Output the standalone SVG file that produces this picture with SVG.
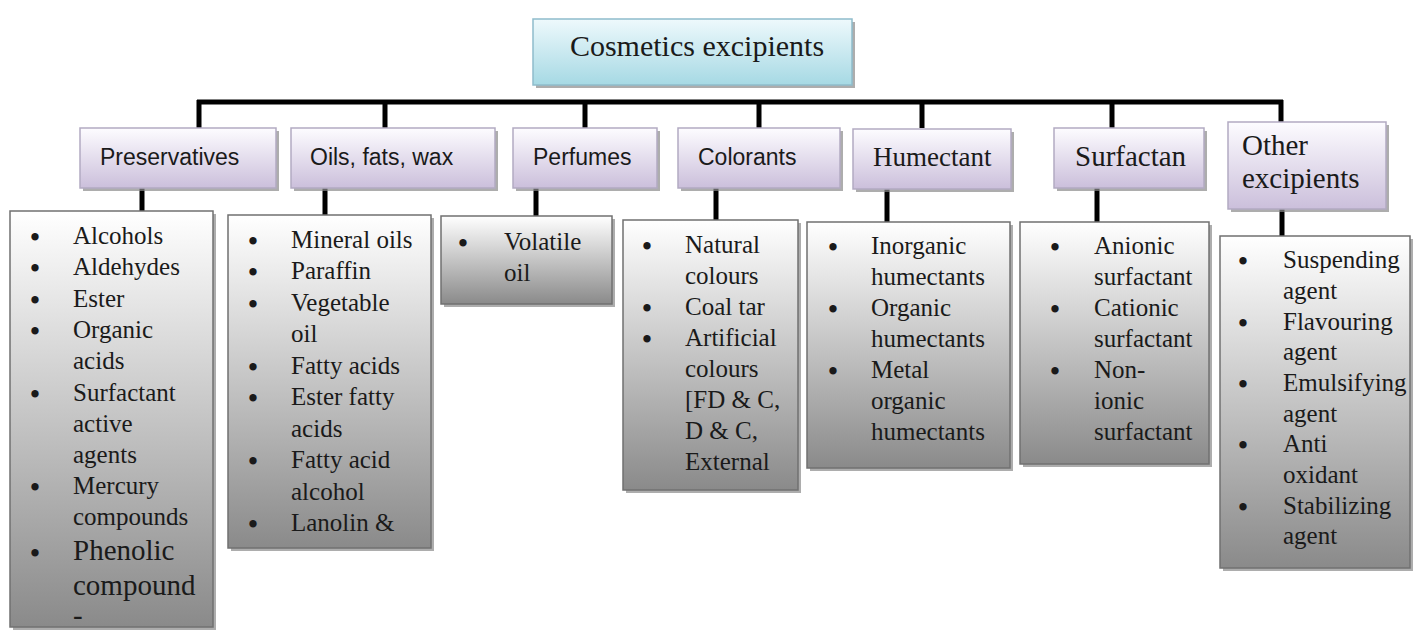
<svg xmlns="http://www.w3.org/2000/svg" width="1413" height="630" viewBox="0 0 1413 630">
<defs>
<linearGradient id="gTop" x1="0" y1="0" x2="0" y2="1"><stop offset="0" stop-color="#eef9fc"/><stop offset="1" stop-color="#a6d9e4"/></linearGradient>
<linearGradient id="gHead" x1="0" y1="0" x2="0" y2="1"><stop offset="0" stop-color="#fdfcff"/><stop offset="1" stop-color="#cbbfdb"/></linearGradient>
<linearGradient id="gList" x1="0" y1="0" x2="0" y2="1"><stop offset="0" stop-color="#ffffff"/><stop offset="1" stop-color="#8a8a8a"/></linearGradient>
</defs>
<style>
.sh{fill:#8a8a8a;opacity:0.7}
.top{fill:url(#gTop);stroke:#8fbccb;stroke-width:1.5}
.head{fill:url(#gHead);stroke:#b2aac2;stroke-width:1.5}
.list{fill:url(#gList);stroke:#707070;stroke-width:1.5}
.sans{font-family:"Liberation Sans",Arial,sans-serif;font-size:23px;fill:#1a1a1a}
.serif{font-family:"Liberation Serif","Times New Roman",serif;fill:#1a1a1a}
.h{font-size:27px}
.h2{font-size:29px}
.t{font-size:25px}
.b{font-size:27px;font-weight:bold;text-anchor:middle}
.big{font-size:29px}
.con{stroke:#000;stroke-width:5;fill:none}
</style>
<rect width="1413" height="630" fill="#ffffff"/>
<g id="connectors">
<path class="con" d="M197 102 H1283"/>
<path class="con" d="M199 100 V128 M385 100 V128 M585 100 V128 M759 100 V128 M922 100 V128 M1112 100 V128 M1281 100 V122"/>
<path class="con" d="M142 188 V211 M325 188 V215 M536 188 V216 M716 188 V220 M887 188 V222 M1097 188 V222 M1282 209 V236"/>
</g>
<g id="root">
<rect class="sh" x="536" y="22" width="319" height="66"/>
<rect class="top" x="533" y="19" width="319" height="66"/>
<text class="serif" x="697" y="56" font-size="30" text-anchor="middle">Cosmetics excipients</text>
</g>
<g id="h-preservatives">
<rect class="sh" x="83" y="131" width="196" height="60"/>
<rect class="head" x="80" y="128" width="196" height="60"/>
<text class="sans" x="100" y="165">Preservatives</text>
</g>
<g id="h-oils">
<rect class="sh" x="294" y="131" width="204" height="60"/>
<rect class="head" x="291" y="128" width="204" height="60"/>
<text class="sans" x="310" y="165">Oils, fats, wax</text>
</g>
<g id="h-perfumes">
<rect class="sh" x="516" y="131" width="144" height="60"/>
<rect class="head" x="513" y="128" width="144" height="60"/>
<text class="sans" x="533" y="165">Perfumes</text>
</g>
<g id="h-colorants">
<rect class="sh" x="681" y="131" width="162" height="60"/>
<rect class="head" x="678" y="128" width="162" height="60"/>
<text class="sans" x="698" y="165">Colorants</text>
</g>
<g id="h-humectant">
<rect class="sh" x="856" y="132" width="158" height="60"/>
<rect class="head" x="853" y="129" width="158" height="60"/>
<text class="serif h" x="873" y="166">Humectant</text>
</g>
<g id="h-surfactan">
<rect class="sh" x="1057" y="131" width="150" height="60"/>
<rect class="head" x="1054" y="128" width="150" height="60"/>
<text class="serif h2" x="1075" y="166">Surfactan</text>
</g>
<g id="h-other">
<rect class="sh" x="1231" y="125" width="158" height="87"/>
<rect class="head" x="1228" y="122" width="158" height="87"/>
<text class="serif h2" x="1242" y="155">Other</text>
<text class="serif h2" x="1242" y="188">excipients</text>
</g>
<g id="l-preservatives" class="serif">
<rect class="sh" x="13" y="214" width="203" height="416"/>
<rect class="list" x="10" y="211" width="203" height="416"/>
<text class="b" x="35" y="246">•</text><text class="t" x="73" y="244">Alcohols</text>
<text class="b" x="35" y="277">•</text><text class="t" x="73" y="275">Aldehydes</text>
<text class="b" x="35" y="309">•</text><text class="t" x="73" y="307">Ester</text>
<text class="b" x="35" y="340">•</text><text class="t" x="73" y="338">Organic</text>
<text class="t" x="73" y="369">acids</text>
<text class="b" x="35" y="403">•</text><text class="t" x="73" y="401">Surfactant</text>
<text class="t" x="73" y="432">active</text>
<text class="t" x="73" y="463">agents</text>
<text class="b" x="35" y="496">•</text><text class="t" x="73" y="494">Mercury</text>
<text class="t" x="73" y="525">compounds</text>
<text class="b" x="35" y="562" font-size="30">•</text><text class="big" x="73" y="560">Phenolic</text>
<text class="big" x="73" y="595">compound</text>
<text class="big" x="73" y="625">-</text>
</g>
<g id="l-oils" class="serif">
<rect class="sh" x="231" y="218" width="203" height="333"/>
<rect class="list" x="228" y="215" width="203" height="333"/>
<text class="b" x="253" y="250">•</text><text class="t" x="291" y="248">Mineral oils</text>
<text class="b" x="253" y="281">•</text><text class="t" x="291" y="279">Paraffin</text>
<text class="b" x="253" y="313">•</text><text class="t" x="291" y="311">Vegetable</text>
<text class="t" x="291" y="342">oil</text>
<text class="b" x="253" y="376">•</text><text class="t" x="291" y="374">Fatty acids</text>
<text class="b" x="253" y="407">•</text><text class="t" x="291" y="405">Ester fatty</text>
<text class="t" x="291" y="437">acids</text>
<text class="b" x="253" y="470">•</text><text class="t" x="291" y="468">Fatty acid</text>
<text class="t" x="291" y="500">alcohol</text>
<text class="b" x="253" y="533">•</text><text class="t" x="291" y="531">Lanolin &amp;</text>
</g>
<g id="l-perfumes" class="serif">
<rect class="sh" x="444" y="219" width="171" height="88"/>
<rect class="list" x="441" y="216" width="171" height="88"/>
<text class="b" x="463" y="252">•</text><text class="t" x="504" y="250">Volatile</text>
<text class="t" x="504" y="281">oil</text>
</g>
<g id="l-colorants" class="serif">
<rect class="sh" x="626" y="223" width="175" height="270"/>
<rect class="list" x="623" y="220" width="175" height="270"/>
<text class="b" x="647" y="255">•</text><text class="t" x="685" y="253">Natural</text>
<text class="t" x="685" y="284">colours</text>
<text class="b" x="647" y="317">•</text><text class="t" x="685" y="315">Coal tar</text>
<text class="b" x="647" y="348">•</text><text class="t" x="685" y="346">Artificial</text>
<text class="t" x="685" y="377">colours</text>
<text class="t" x="685" y="408">[FD &amp; C,</text>
<text class="t" x="685" y="439">D &amp; C,</text>
<text class="t" x="685" y="470">External</text>
</g>
<g id="l-humectant" class="serif">
<rect class="sh" x="810" y="225" width="203" height="246"/>
<rect class="list" x="807" y="222" width="203" height="246"/>
<text class="b" x="833" y="256">•</text><text class="t" x="871" y="254">Inorganic</text>
<text class="t" x="871" y="285">humectants</text>
<text class="b" x="833" y="318">•</text><text class="t" x="871" y="316">Organic</text>
<text class="t" x="871" y="347">humectants</text>
<text class="b" x="833" y="380">•</text><text class="t" x="871" y="378">Metal</text>
<text class="t" x="871" y="409">organic</text>
<text class="t" x="871" y="440">humectants</text>
</g>
<g id="l-surfactant" class="serif">
<rect class="sh" x="1023" y="225" width="189" height="242"/>
<rect class="list" x="1020" y="222" width="189" height="242"/>
<text class="b" x="1055" y="256">•</text><text class="t" x="1094" y="254">Anionic</text>
<text class="t" x="1094" y="285">surfactant</text>
<text class="b" x="1055" y="318">•</text><text class="t" x="1094" y="316">Cationic</text>
<text class="t" x="1094" y="347">surfactant</text>
<text class="b" x="1055" y="380">•</text><text class="t" x="1094" y="378">Non-</text>
<text class="t" x="1094" y="409">ionic</text>
<text class="t" x="1094" y="440">surfactant</text>
</g>
<g id="l-other" class="serif">
<rect class="sh" x="1223" y="239" width="190" height="332"/>
<rect class="list" x="1220" y="236" width="190" height="332"/>
<text class="b" x="1243" y="270">•</text><text class="t" x="1283" y="268">Suspending</text>
<text class="t" x="1283" y="299">agent</text>
<text class="b" x="1243" y="332">•</text><text class="t" x="1283" y="330">Flavouring</text>
<text class="t" x="1283" y="360">agent</text>
<text class="b" x="1243" y="393">•</text><text class="t" x="1283" y="391">Emulsifying</text>
<text class="t" x="1283" y="422">agent</text>
<text class="b" x="1243" y="454">•</text><text class="t" x="1283" y="452">Anti</text>
<text class="t" x="1283" y="483">oxidant</text>
<text class="b" x="1243" y="516">•</text><text class="t" x="1283" y="514">Stabilizing</text>
<text class="t" x="1283" y="544">agent</text>
</g>
</svg>
